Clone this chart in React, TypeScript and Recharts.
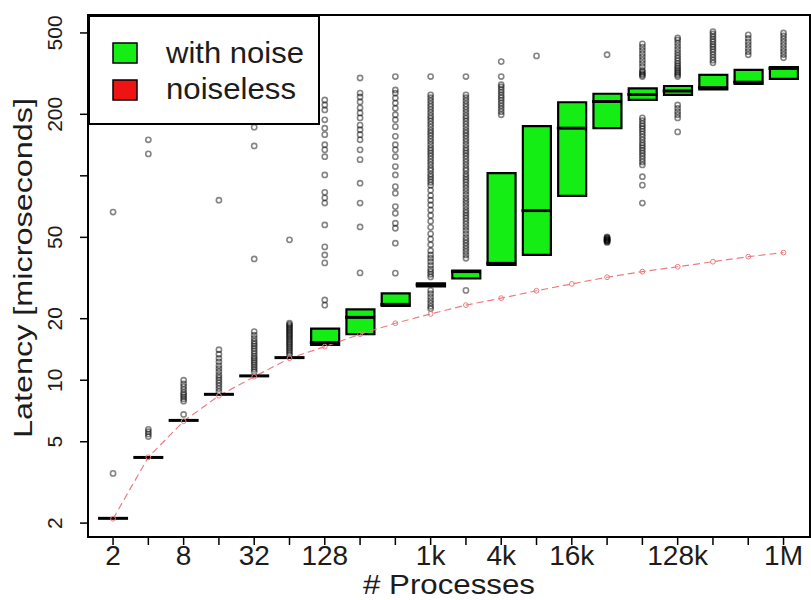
import { Bar, ComposedChart, Legend, Line, ReferenceArea, Scatter, XAxis, YAxis } from "recharts";

// process counts, one box per power of two
const procs = ["2", "4", "8", "16", "32", "64", "128", "256", "512", "1k", "2k", "4k", "8k", "16k", "32k", "64k", "128k", "256k", "512k", "1M"];
const shownProcs = ["2", "8", "32", "128", "1k", "4k", "16k", "128k", "1M"];

// latency quartiles (microseconds), with noise
const q1 = [null, null, null, null, null, null, 14.9, 16.8, 23.1, 28.8, 31.5, 36.7, 41.0, 79.7, 171, 235, 249, 265, 282, 298];
const q3 = [null, null, null, null, null, null, 17.9, 22.2, 26.6, 29.8, 34.4, 103, 175, 229, 252, 268, 275, 312, 330, 340];
const medians = [2.11, 4.19, 6.36, 8.53, 10.5, 12.9, 15.3, 20.3, 23.5, 29.3, 34.0, 37.3, 67.6, 171, 231, 250, 260, 270, 287, 335];

// noiseless run
const noiseless = [2.1, 4.2, 6.3, 8.4, 10.4, 12.8, 14.6, 16.8, 19.0, 21.1, 23.3, 25.2, 27.4, 29.6, 31.9, 34.0, 35.9, 38.0, 40.2, 42.1];

const outliers: number[][] = [
  [3.5, 66.5],
  [5.3, 5.45, 5.6, 5.75, 128, 150],
  [6.8, 7.9, 8.1, 8.3, 8.5, 8.7, 9.0, 9.3, 9.6, 10.0],
  [8.8, 9.1, 9.4, 9.7, 10.0, 10.3, 10.6, 11.0, 11.4, 11.8, 12.3, 12.8, 13.4, 14.1, 76],
  [11.0, 11.3, 11.6, 11.9, 12.2, 12.5, 12.8, 13.1, 13.5, 13.9, 14.3, 14.7, 15.1, 15.5, 16.0, 16.6, 17.3, 39.2, 140, 173],
  [13.3, 13.6, 13.9, 14.2, 14.5, 14.8, 15.1, 15.4, 15.7, 16.0, 16.3, 16.6, 16.9, 17.2, 17.5, 17.8, 18.1, 18.4, 18.7, 19.0, 48.6, 203],
  [23.3, 24.7, 37.5, 41, 44.9, 57.5, 73.6, 78, 83, 101, 124, 134, 142, 159, 171, 188, 210, 222, 235],
  [33.5, 56.2, 73.6, 92, 120, 134, 150, 159, 168, 177, 192, 203, 215, 230, 243, 254, 301],
  [33.4, 46.8, 55.4, 58.6, 65.6, 70.7, 82.2, 88.5, 101, 111, 124, 134, 142, 156, 174, 188, 199, 214, 227, 240, 254, 263, 306],
  [22.4, 23.0, 23.8, 24.6, 25.5, 26.5, 27.5, 32, 33, 34, 35, 36.5, 38, 39.5, 41, 43, 46, 49, 52, 56, 60, 64, 68, 72, 76, 80, 85,
    90, 93, 96, 99, 102, 106, 109, 113, 117, 121, 125, 129, 133, 137, 142, 147, 152, 157, 162, 167, 173, 179, 185, 191, 197, 204,
    211, 218, 225, 233, 241, 249, 306],
  [27.5, 39.5, 41, 42.5, 44, 45.5, 47, 48.5, 50, 52, 54, 56, 58, 60, 62, 64, 66, 68, 70.5, 73, 75.5, 78, 81, 84, 87, 90, 93, 96,
    99, 102, 106, 109, 113, 117, 121, 125, 129, 133, 137, 142, 147, 152, 157, 162, 167, 173, 179, 185, 191, 197, 204, 211, 218,
    225, 233, 241, 249, 306],
  [199, 206, 213, 220, 227, 234, 241, 248, 256, 264, 272, 279, 306, 362],
  [386],
  [],
  [47.2, 47.6, 48.0, 48.2, 48.6, 48.6, 49.0, 49.4, 49.8, 50.2, 391],
  [73.6, 90, 99, 113, 117, 121, 125, 129, 133, 137, 141, 145, 150, 155, 160, 165, 170, 175, 180, 186, 192,
    306, 311, 316, 322, 328, 342, 355, 368, 382, 396, 411, 426, 442],
  [164, 192, 199, 206, 214, 222, 306, 312, 318, 324, 331, 338, 346, 355, 365, 376, 388, 401, 415, 430, 446, 462, 473],
  [357, 368, 380, 392, 404, 416, 428, 440, 453, 466, 480, 494, 508],
  [391, 405, 420, 436, 452, 470, 489],
  [378, 392, 406, 420, 436, 452, 468, 484, 500],
];

const yTicks = [2, 5, 10, 20, 50, 100, 200, 500];
const yLabelled = [2, 5, 10, 20, 50, 200, 500];

const legendItems = [
  { label: "with noise", color: "#14ee14", length: 138 },
  { label: "noiseless", color: "#ee1414", length: 130 },
];

const FONT = "'Liberation Sans', Arial, Helvetica, sans-serif";
const GREEN = "#14ee14";
const PINK = "#ec7c84";
const BOX_W = 28;

const rows = procs.map((p, i) => ({
  x: i + 1,
  label: p,
  box: q1[i] != null ? [q1[i], q3[i]] : null,
  median: medians[i],
  noiseless: noiseless[i],
}));

const outlierPoints = outliers.flatMap((vals, i) => vals.map((v) => ({ x: i + 1, y: v })));

function XTick({ x, y, payload }: any) {
  const label = procs[payload.value - 1];
  if (!shownProcs.includes(label)) return <g />;
  return (
    <text x={x} y={y + 18} textAnchor="middle" fontSize={28} fill="#1c1c1c" fontFamily={FONT}>
      {label}
    </text>
  );
}

function YTick({ x, y, payload }: any) {
  if (!yLabelled.includes(payload.value)) return <g />;
  const tx = x - 16;
  return (
    <text x={tx} y={y} transform={`rotate(-90 ${tx} ${y})`} textAnchor="middle" fontSize={21} fill="#1c1c1c" fontFamily={FONT}>
      {payload.value}
    </text>
  );
}

function XTitle({ viewBox }: any) {
  const vb = viewBox ?? { x: 88, y: 537, width: 722, height: 63 };
  return (
    <text x={vb.x + vb.width / 2} y={vb.y + 57} textAnchor="middle" fontSize={28} fill="#1c1c1c" fontFamily={FONT}
      textLength={172} lengthAdjust="spacingAndGlyphs">
      # Processes
    </text>
  );
}

function YTitle({ viewBox }: any) {
  const vb = viewBox ?? { x: 8, y: 15, width: 80, height: 522 };
  const tx = vb.x + 24;
  const ty = vb.y + vb.height / 2 - 8;
  return (
    <text x={tx} y={ty} transform={`rotate(-90 ${tx} ${ty})`} textAnchor="middle" fontSize={26} fill="#1c1c1c"
      fontFamily={FONT} textLength={340} lengthAdjust="spacingAndGlyphs">
      Latency [microseconds]
    </text>
  );
}

function MedianMark({ cx, cy }: any) {
  if (cx == null || cy == null) return <g />;
  return <line x1={cx - BOX_W / 2 - 1} x2={cx + BOX_W / 2 + 1} y1={cy} y2={cy} stroke="#000" strokeWidth={3} />;
}

function OutlierMark({ cx, cy }: any) {
  if (cx == null || cy == null) return <g />;
  return <circle cx={cx} cy={cy} r={2.6} fill="none" stroke="rgba(0,0,0,0.48)" strokeWidth={1.6} />;
}

function NoiselessDot({ cx, cy, index }: any) {
  return <circle key={`nd-${index}`} cx={cx} cy={cy} r={2.4} fill="none" stroke={PINK} strokeWidth={1} />;
}

function LegendBox() {
  return (
    <svg width={232} height={110} style={{ display: "block" }}>
      <rect x={1} y={1} width={230} height={108} fill="#fff" stroke="#000" strokeWidth={2} />
      {legendItems.map((item, i) => (
        <g key={item.label}>
          <rect x={25} y={28 + i * 37} width={24} height={20} fill={item.color} stroke="#000" strokeWidth={1.5} />
          <text x={78} y={48 + i * 36} fontSize={30} fill="#1c1c1c" fontFamily={FONT}
            textLength={item.length} lengthAdjust="spacingAndGlyphs">
            {item.label}
          </text>
        </g>
      ))}
    </svg>
  );
}

export default function App() {
  return (
    <div style={{ position: "absolute", left: 0, top: 0, width: 811, height: 600, background: "#fff" }}>
      <ComposedChart width={811} height={600} data={rows} margin={{ top: 15, right: 1, bottom: 0, left: 8 }}>
        <XAxis
          type="number"
          dataKey="x"
          domain={[0.29, 20.75]}
          allowDataOverflow
          ticks={rows.map((r) => r.x)}
          interval={0}
          tickSize={8}
          height={63}
          tick={<XTick />}
          axisLine={{ stroke: "#000", strokeWidth: 2 }}
          tickLine={{ stroke: "#000", strokeWidth: 1.5 }}
          label={{ content: <XTitle /> }}
        />
        <YAxis
          type="number"
          scale="log"
          domain={[1.71, 612]}
          allowDataOverflow
          ticks={yTicks}
          interval={0}
          tickSize={8}
          width={80}
          tick={<YTick />}
          axisLine={{ stroke: "#000", strokeWidth: 2 }}
          tickLine={{ stroke: "#000", strokeWidth: 1.5 }}
          label={{ content: <YTitle /> }}
        />
        <ReferenceArea x1={0.29} x2={20.75} y1={1.71} y2={612} fill="none" stroke="#000" strokeWidth={2} ifOverflow="visible" />
        <Bar dataKey="box" barSize={BOX_W} fill={GREEN} stroke="#000" strokeWidth={2.2} isAnimationActive={false} />
        <Scatter data={outlierPoints} dataKey="y" shape={<OutlierMark />} isAnimationActive={false} />
        <Scatter data={rows} dataKey="median" shape={<MedianMark />} isAnimationActive={false} />
        <Line
          dataKey="noiseless"
          stroke={PINK}
          strokeWidth={1.2}
          strokeDasharray="7 4"
          dot={<NoiselessDot />}
          activeDot={false}
          isAnimationActive={false}
        />
        <Legend
          layout="horizontal"
          verticalAlign="middle"
          align="center"
          wrapperStyle={{ left: 88, top: 15, width: 232, height: 110 }}
          content={<LegendBox />}
        />
      </ComposedChart>
    </div>
  );
}
